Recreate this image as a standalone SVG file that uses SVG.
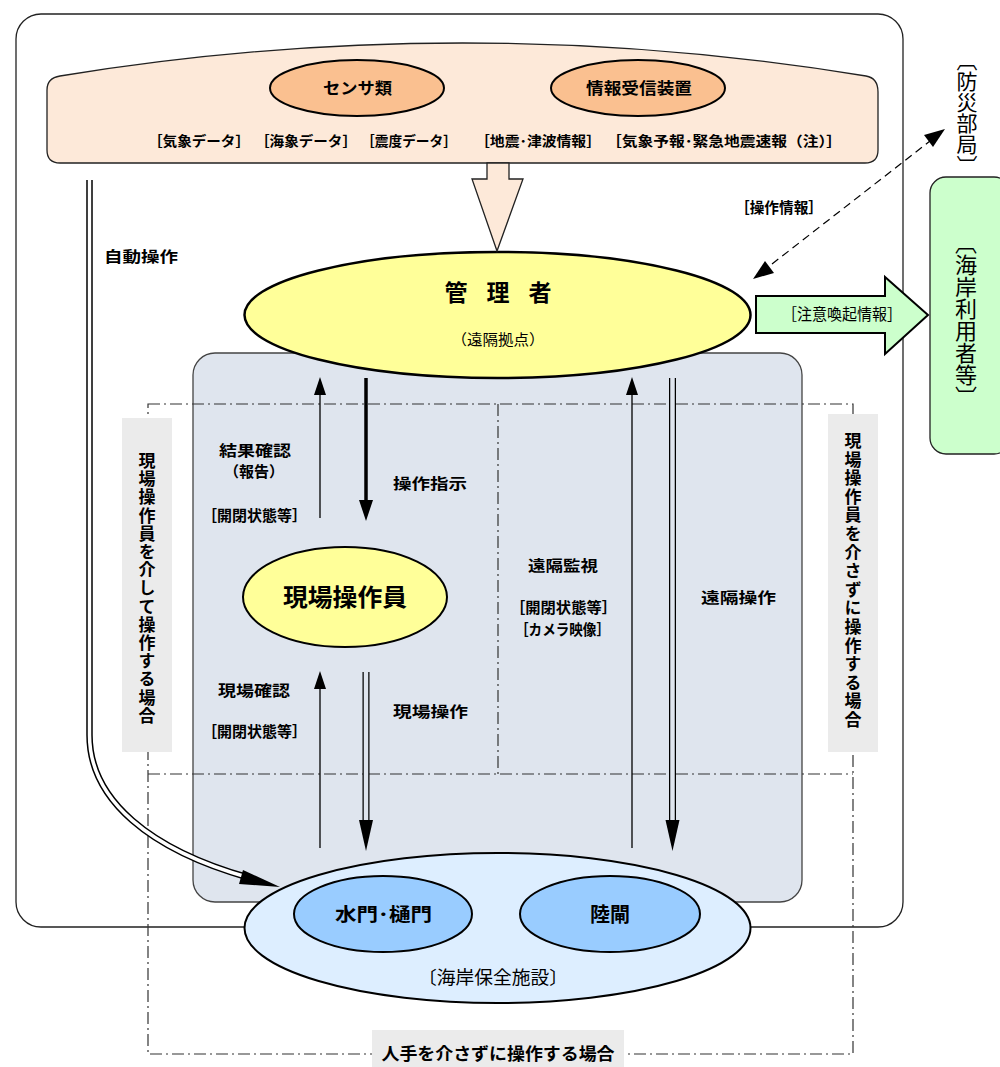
<svg xmlns="http://www.w3.org/2000/svg" width="1000" height="1067" viewBox="0 0 1000 1067">
<style>
text{font-family:"Noto Sans CJK JP","Noto Sans",sans-serif;fill:#000}
.b{font-weight:bold}
.t14{font-size:14px}
.t15{font-size:15px}
.vt{writing-mode:vertical-rl}
.dd{fill:none;stroke:#333;stroke-width:1.2;stroke-dasharray:12,4,2,4}
.thin{stroke:#000;stroke-width:1.3;fill:none}
</style>

<!-- outer frame -->
<rect x="16" y="14" width="887" height="913" rx="25" fill="#fff" stroke="#222" stroke-width="1.3"/>

<!-- top source area -->
<g id="sources">
<path d="M60,76 Q462,10 866,76 Q878,78 878,92 L878,150 Q878,163 865,163 L60,163 Q47,163 47,150 L47,90 Q47,78 60,76 Z" fill="#FDE9D9" stroke="#222" stroke-width="1.3"/>
<text x="148" y="146" class="b t14" textLength="102" lengthAdjust="spacingAndGlyphs">［気象データ］</text>
<text x="255" y="146" class="b t14" textLength="102" lengthAdjust="spacingAndGlyphs">［海象データ］</text>
<text x="361" y="146" class="b t14" textLength="96" lengthAdjust="spacingAndGlyphs">［震度データ］</text>
<text x="475" y="146" class="b t14" textLength="126" lengthAdjust="spacingAndGlyphs">［地震･津波情報］</text>
<text x="606" y="146" class="b t14" textLength="236" lengthAdjust="spacingAndGlyphs">［気象予報･緊急地震速報（注）］</text>
</g>
<g id="sensor">
<ellipse cx="357" cy="88" rx="87" ry="28" fill="#FAC090" stroke="#000" stroke-width="2"/>
<text x="357.5" y="94" text-anchor="middle" class="b" font-size="16" textLength="69" lengthAdjust="spacingAndGlyphs">センサ類</text>
</g>
<g id="receiver">
<ellipse cx="638" cy="88" rx="87" ry="28" fill="#FAC090" stroke="#000" stroke-width="2"/>
<text x="639" y="94" text-anchor="middle" class="b" font-size="16" textLength="106" lengthAdjust="spacingAndGlyphs">情報受信装置</text>
</g>

<!-- field area -->
<rect x="193" y="353" width="609" height="549" rx="22" fill="#DFE5EE" stroke="#444" stroke-width="1.3"/>

<!-- dash-dot region lines -->
<g id="regions">
<path class="dd" d="M148,404 L853,404 L853,1054 L148,1054 Z"/>
<path class="dd" d="M148,774 L853,774"/>
<path class="dd" d="M498,404 L498,774"/>
</g>

<g id="label-left">
<rect x="122" y="418" width="50" height="334" fill="#EBEBEB"/>
<text x="147" y="452" class="b vt" font-size="17" letter-spacing="1.2">現場操作員を介して操作する場合</text>
</g>
<g id="label-right">
<rect x="828" y="414" width="50" height="338" fill="#EBEBEB"/>
<text x="853" y="432" class="b vt" font-size="17" letter-spacing="1.6">現場操作員を介さずに操作する場合</text>
</g>
<g id="label-bottom">
<rect x="372" y="1030" width="252" height="37" fill="#EBEBEB"/>
<text x="498" y="1060" text-anchor="middle" class="b" font-size="17" textLength="233" lengthAdjust="spacingAndGlyphs">人手を介さずに操作する場合</text>
</g>

<!-- manager -->
<g id="manager">
<ellipse cx="497.5" cy="315" rx="253" ry="63" fill="#FFFF99" stroke="#000" stroke-width="2.5"/>
<text x="498" y="301" text-anchor="middle" class="b" font-size="23" textLength="107" lengthAdjust="spacing">管理者</text>
<text x="498" y="345" text-anchor="middle" font-size="15" fill="#222" textLength="93" lengthAdjust="spacingAndGlyphs">（遠隔拠点）</text>
</g>

<!-- right side nodes -->
<g id="bousai">
<text x="967" y="50" class="vt" font-size="21">〔防災部局〕</text>
</g>
<g id="users">
<rect x="930" y="177" width="80" height="277" rx="16" fill="#CCFFCC" stroke="#222" stroke-width="1.3"/>
<text x="966" y="232" class="vt" font-size="22">〔海岸利用者等〕</text>
</g>

<!-- field operator -->
<g id="operator">
<ellipse cx="345" cy="597" rx="102" ry="50" fill="#FFFF99" stroke="#000" stroke-width="2"/>
<text x="345" y="606" text-anchor="middle" class="b" font-size="24" textLength="124" lengthAdjust="spacingAndGlyphs">現場操作員</text>
</g>

<!-- connectors -->
<g id="connectors">
<!-- block arrow down from sources -->
<path d="M487,163 L509,163 L509,179 L523,179 L497,251 L472,179 L487,179 Z" fill="#FDE9D9" stroke="#222" stroke-width="1.3"/>
<!-- dashed double arrow -->
<line x1="772" y1="264" x2="930" y2="141" stroke="#000" stroke-width="1.2" stroke-dasharray="8,5"/>
<path d="M945,129 L924,135 L933,147 Z"/>
<path d="M753,279 L765,261 L774,273 Z"/>
<text x="735" y="213" class="b t15" textLength="88" lengthAdjust="spacingAndGlyphs">［操作情報］</text>
<!-- green block arrow -->
<path d="M756,296 L885,296 L885,277 L928,315 L885,354 L885,333 L756,333 Z" fill="#CCFFCC" stroke="#000" stroke-width="2"/>
<text x="782" y="320" font-size="16" fill="#222" textLength="120" lengthAdjust="spacingAndGlyphs">［注意喚起情報］</text>

<!-- auto operation double line -->
<path d="M89.5,180 L89.5,735 C89.5,800 150,850 250,878" fill="none" stroke="#000" stroke-width="6.5"/>
<path d="M89.5,180 L89.5,735 C89.5,800 150,850 250,878" fill="none" stroke="#fff" stroke-width="3.5"/>
<path d="M280,887 L243,870 L239,884 Z"/>
<text x="104" y="262" class="b" font-size="15" textLength="74" lengthAdjust="spacingAndGlyphs">自動操作</text>

<!-- left column arrows -->
<line class="thin" x1="320" y1="518" x2="320" y2="394"/>
<path d="M320,377 L314,395 L326,395 Z"/>
<line x1="366" y1="378" x2="366" y2="505" stroke="#000" stroke-width="3.5"/>
<path d="M366,521 L359,500 L373,500 Z"/>
<text x="255" y="456" text-anchor="middle" class="b t15" textLength="72" lengthAdjust="spacingAndGlyphs">結果確認</text>
<text x="254" y="477" text-anchor="middle" class="b t15" textLength="60" lengthAdjust="spacingAndGlyphs">（報告）</text>
<text x="254.5" y="521" text-anchor="middle" class="b t15" textLength="105" lengthAdjust="spacingAndGlyphs">［開閉状態等］</text>
<text x="430" y="489" text-anchor="middle" class="b t15" textLength="74" lengthAdjust="spacingAndGlyphs">操作指示</text>

<line class="thin" x1="320" y1="848" x2="320" y2="688"/>
<path d="M320,671 L314,689 L326,689 Z"/>
<line x1="366" y1="672" x2="366" y2="825" stroke="#000" stroke-width="7"/>
<line x1="366" y1="672" x2="366" y2="825" stroke="#DFE5EE" stroke-width="4.5"/>
<path d="M366,851 L359,820 L373,820 Z"/>
<text x="254" y="696" text-anchor="middle" class="b t15" textLength="72" lengthAdjust="spacingAndGlyphs">現場確認</text>
<text x="254.5" y="737" text-anchor="middle" class="b t15" textLength="105" lengthAdjust="spacingAndGlyphs">［開閉状態等］</text>
<text x="430.5" y="717" text-anchor="middle" class="b t15" textLength="75" lengthAdjust="spacingAndGlyphs">現場操作</text>

<!-- right column arrows -->
<line class="thin" x1="632" y1="848" x2="632" y2="394"/>
<path d="M632,377 L626,395 L638,395 Z"/>
<line x1="672.5" y1="378" x2="672.5" y2="825" stroke="#000" stroke-width="7"/>
<line x1="672.5" y1="378" x2="672.5" y2="825" stroke="#DFE5EE" stroke-width="4.5"/>
<path d="M672.5,851 L665.5,820 L679.5,820 Z"/>
<text x="563" y="571" text-anchor="middle" class="b t15" textLength="70" lengthAdjust="spacingAndGlyphs">遠隔監視</text>
<text x="563.5" y="613" text-anchor="middle" class="b t15" textLength="107" lengthAdjust="spacingAndGlyphs">［開閉状態等］</text>
<text x="562.5" y="635" text-anchor="middle" class="b t15" textLength="95" lengthAdjust="spacingAndGlyphs">［カメラ映像］</text>
<text x="738.5" y="603" text-anchor="middle" class="b t15" textLength="75" lengthAdjust="spacingAndGlyphs">遠隔操作</text>
</g>

<!-- coastal facilities -->
<g id="facilities">
<ellipse cx="497.5" cy="928" rx="253" ry="75" fill="#DDEEFF" stroke="#000" stroke-width="2"/>
<text x="493" y="984" text-anchor="middle" font-size="18" fill="#222" textLength="150" lengthAdjust="spacingAndGlyphs">〔海岸保全施設〕</text>
</g>
<g id="suimon">
<ellipse cx="383" cy="914" rx="89" ry="38" fill="#99CCFF" stroke="#000" stroke-width="2"/>
<text x="383.5" y="921" text-anchor="middle" class="b" font-size="18" textLength="97" lengthAdjust="spacingAndGlyphs">水門･樋門</text>
</g>
<g id="rikko">
<ellipse cx="610" cy="914" rx="90" ry="38" fill="#99CCFF" stroke="#000" stroke-width="2"/>
<text x="610" y="922" text-anchor="middle" class="b" font-size="20">陸閘</text>
</g>
</svg>
